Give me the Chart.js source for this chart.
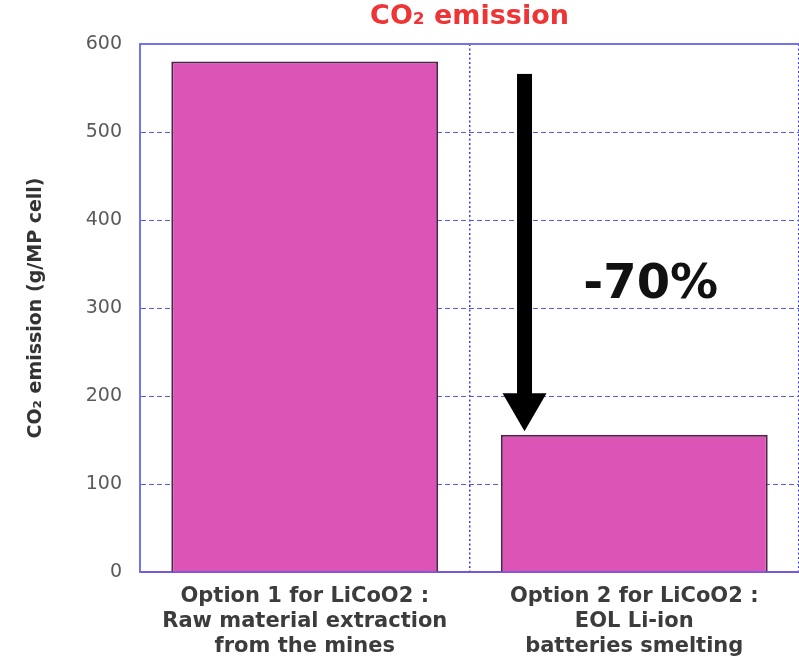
<!DOCTYPE html>
<html><head><meta charset="utf-8">
<script src="https://cdn.jsdelivr.net/npm/chart.js@4.4.0/dist/chart.umd.min.js"></script>
<style>html,body{margin:0;padding:0;background:#fff;overflow:hidden}#wrap{width:799px;height:660px}</style>
</head><body><div id="wrap"><canvas id="c" width="799" height="660"></canvas></div>
<script>
const categories = [
  ["Option 1 for LiCoO2 :", "Raw material extraction", "from the mines"],
  ["Option 2 for LiCoO2 :", "EOL Li-ion", "batteries smelting"]
];
const co2Values = [580, 156];
const yTickValues = [0, 100, 200, 300, 400, 500, 600];
const chartTitle = "CO₂ emission";
const yAxisTitle = "CO₂ emission (g/MP cell)";
const reductionLabel = "-70%";
// annotation anchors (data units)
const arrowCategoryPos = 0.667;
const arrowFromValue = 566;
const arrowToValue = 160;
const labelCategoryPos = 1.05;
const labelValue = 326;

const FONT = '"DejaVu Sans", "Liberation Sans", sans-serif';

const arrowPlugin = {
  id: 'arrowNote',
  afterDatasetsDraw(chart) {
    const {ctx, scales: {x, y}} = chart;
    const ax = x.getPixelForValue(arrowCategoryPos);
    const y0 = y.getPixelForValue(arrowFromValue);
    const y1 = y.getPixelForValue(arrowToValue);
    const headLen = 38, headHalf = 22, shaft = 15;
    ctx.save();
    ctx.fillStyle = '#000';
    ctx.fillRect(ax - shaft / 2, y0, shaft, (y1 - headLen) - y0 + 1);
    ctx.beginPath();
    ctx.moveTo(ax - headHalf, y1 - headLen);
    ctx.lineTo(ax + headHalf, y1 - headLen);
    ctx.lineTo(ax, y1);
    ctx.closePath();
    ctx.fill();
    ctx.font = 'bold 48px ' + FONT;
    ctx.textAlign = 'center';
    ctx.textBaseline = 'middle';
    ctx.fillStyle = '#111';
    ctx.fillText(reductionLabel, x.getPixelForValue(labelCategoryPos), y.getPixelForValue(labelValue));
    ctx.restore();
  }
};

new Chart(document.getElementById('c'), {
  type: 'bar',
  data: {
    labels: categories,
    datasets: [{
      data: co2Values,
      backgroundColor: '#dc55b6',
      borderColor: '#4e2549',
      borderWidth: 2,
      barPercentage: 0.81,
      categoryPercentage: 1.0
    }]
  },
  options: {
    responsive: false,
    devicePixelRatio: 1,
    animation: false,
    layout: {padding: {left: 0, right: 0, top: 0, bottom: 0}},
    plugins: {
      legend: {display: false},
      tooltip: {enabled: false},
      title: {
        display: true,
        text: chartTitle,
        color: '#ee3434',
        fullSize: false,
        font: {family: FONT, size: 27, weight: 'bold', lineHeight: 1.2},
        padding: {top: 1, bottom: 10.6}
      }
    },
    scales: {
      x: {
        offset: true,
        grid: {offset: true, color: '#3c3ce6', lineWidth: 1.5, drawTicks: false},
        border: {color: '#7658de', width: 2, dash: [2, 2.5]},
        ticks: {
          font: {family: FONT, size: 21, weight: 'bold', lineHeight: 1.2},
          color: '#3c3c3c', padding: 12, maxRotation: 0, autoSkip: false
        },
        afterFit: s => { s.height = 88; }
      },
      y: {
        min: 0, max: 600,
        afterBuildTicks: s => { s.ticks = yTickValues.map(v => ({value: v})); },
        grid: {
          drawTicks: false,
          color: c => (c.tick && c.tick.value === 600) ? '#7474ea' : '#5a5ae0',
          lineWidth: c => (c.tick && c.tick.value === 600) ? 2 : 1
        },
        border: {
          color: '#7474ea', width: 2,
          dash: c => (c.tick && c.tick.value === 600) ? [] : [5, 3]
        },
        ticks: {font: {family: FONT, size: 19}, color: '#5a5a5a', padding: 18},
        title: {
          display: true, text: yAxisTitle, color: '#333',
          font: {family: FONT, size: 19, weight: 'bold', lineHeight: 1.2},
          padding: {top: 25, bottom: 0}
        },
        afterFit: s => { s.width = 140; }
      }
    }
  },
  plugins: [arrowPlugin]
});
</script>
</body></html>
